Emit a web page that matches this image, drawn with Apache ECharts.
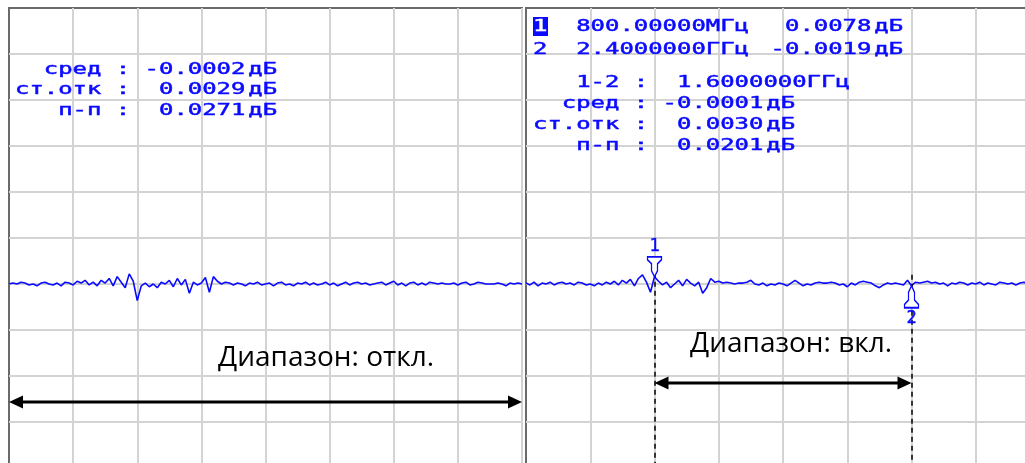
<!DOCTYPE html>
<html>
<head>
<meta charset="utf-8">
<script src="https://cdn.jsdelivr.net/npm/echarts@6/dist/echarts.min.js"></script>
<style>
  html, body { margin: 0; padding: 0; background: #ffffff; overflow: hidden; }
  /* the two screens run past the right and bottom edges of the window */
  #chart { width: 1040px; height: 470px; }
</style>
</head>
<body>
<div id="chart"></div>
<script>
// Sweep settings shared by both screens: 0 … 3.2 GHz, 8 divisions
const START_GHZ = 0;
const STOP_GHZ = 3.2;
const DIV_GHZ = 0.4;
// Vertical scale: 0.05 dB/div, 0 dB six divisions below the top edge
const Y_MIN_DB = -0.2;
const Y_MAX_DB = 0.3;
const DIV_DB = 0.05;

// Trace with the statistics span switched off (whole sweep), dB
const traceOffDb = [
  0.000, 0.001, 0.000, 0.002, 0.001, -0.001, 0.000, -0.002, 0.001, 0.002,
  0.000, -0.001, 0.001, -0.002, 0.002, 0.001, -0.001, 0.003, 0.001, 0.004,
  -0.001, 0.002, -0.002, 0.004, 0.001, 0.006, -0.002, 0.008, 0.002, -0.004,
  0.011, 0.003, -0.018, -0.002, 0.001, -0.003, 0.000, -0.004, 0.002, 0.000,
  0.004, -0.003, 0.006, -0.001, 0.005, -0.010, 0.002, -0.001, 0.001, 0.007,
  -0.009, 0.008, 0.003, 0.000, 0.002, 0.001, -0.001, 0.001, 0.000, -0.002,
  0.001, 0.000, 0.002, -0.001, 0.000, 0.001, -0.002, 0.001, 0.002, -0.001,
  0.000, -0.002, 0.001, 0.000, 0.002, -0.001, 0.001, -0.001, 0.000, 0.002,
  -0.001, 0.001, -0.002, 0.000, 0.002, -0.001, 0.001, 0.002, 0.000, 0.001,
  -0.001, 0.000, 0.001, 0.002, -0.001, 0.001, 0.003, -0.001, 0.001, -0.002,
  0.001, 0.002, -0.001, 0.001, -0.001, 0.002, 0.001, 0.000, 0.001, 0.000,
  0.000, 0.001, -0.001, 0.001, 0.002, -0.001, 0.000, 0.002, 0.001, 0.000,
  0.000, 0.000, 0.001, 0.000, -0.002, 0.001, 0.000, 0.001, 0.000
];

// Trace with the statistics span switched on (marker 1 … marker 2), dB
const traceOnDb = [
  0.001, -0.001, 0.002, -0.002, 0.001, 0.000, 0.002, -0.001, 0.001, 0.002,
  0.000, 0.001, -0.001, 0.002, 0.001, -0.001, 0.000, -0.002, 0.001, -0.001,
  0.002, 0.000, 0.003, -0.001, 0.004, 0.001, 0.005, -0.002, 0.006, 0.010,
  0.002, -0.009, 0.0078, 0.003, -0.001, 0.002, -0.004, 0.000, 0.004, -0.002,
  0.005, 0.001, -0.002, 0.002, -0.010, -0.004, 0.006, 0.002, 0.003, 0.001,
  0.002, 0.001, 0.000, 0.001, 0.001, 0.002, 0.004, 0.000, -0.001, 0.001,
  -0.002, 0.000, -0.001, 0.001, 0.000, -0.002, 0.001, 0.004, 0.001, -0.002,
  0.000, -0.001, 0.001, 0.002, 0.001, 0.001, 0.002, 0.001, -0.001, 0.000,
  -0.003, 0.001, -0.001, 0.002, 0.003, 0.002, 0.001, -0.002, -0.004, -0.001,
  0.001, 0.000, 0.001, 0.000, -0.001, 0.004, -0.0019, 0.002, 0.001, 0.002,
  0.003, 0.001, 0.002, 0.000, 0.001, -0.002, 0.001, 0.000, 0.002, 0.001,
  -0.001, 0.001, 0.000, 0.002, -0.001, 0.001, 0.000, -0.001, 0.002, 0.001,
  0.000, 0.001, -0.001, 0.001, 0.002, 0.000, 0.001, -0.001, 0.000
];

// Markers
const markerNames = ['1', '2'];
const markerGHz = [0.8, 2.4];
const markerFreqText = ['800.00000', '2.4000000'];
const markerFreqUnit = ['МГц', 'ГГц'];
const markerDb = [0.0078, -0.0019];
const deltaName = '1-2';
const deltaText = '1.6000000';
const deltaUnit = 'ГГц';

// Trace statistics
const statNames = ['сред', 'ст.отк', 'п-п'];
const statsOffDb = ['-0.0002', '0.0029', '0.0271'];
const statsOnDb = ['-0.0001', '0.0030', '0.0201'];
const dbUnit = 'дБ';

// Captions under each screen
const spanCaptions = ['Диапазон: откл.', 'Диапазон: вкл.'];

// ---------------------------------------------------------------------------
const BLUE = '#0a0aff';
const GRID_LINE = '#d3d3d3';
const FRAME = '#6a6a6a';

const sweepGHz = traceOffDb.map((_, i) =>
  START_GHZ + i * (STOP_GHZ - START_GHZ) / (traceOffDb.length - 1));
const toPairs = (vals) => vals.map((v, i) => [sweepGHz[i], v]);

function xAxisFor(gridIndex) {
  return {
    type: 'value', gridIndex, min: START_GHZ, max: STOP_GHZ, interval: DIV_GHZ,
    axisLine: { show: false }, axisTick: { show: false }, axisLabel: { show: false },
    splitLine: { show: true, showMinLine: false, lineStyle: { color: GRID_LINE, width: 2 } }
  };
}
function yAxisFor(gridIndex) {
  return {
    type: 'value', gridIndex, min: Y_MIN_DB, max: Y_MAX_DB, interval: DIV_DB,
    axisLine: { show: false }, axisTick: { show: false }, axisLabel: { show: false },
    splitLine: { show: true, showMaxLine: false, lineStyle: { color: GRID_LINE, width: 2 } }
  };
}

// Marker glyphs: funnel pointing down (above trace) and up (below trace)
const MARK_DOWN = 'path://M0,0H14V3L10,7V14L7,20L4,14V7L0,3Z';
const MARK_UP = 'path://M7,0L10,6V13L14,17V20H0V17L4,13V6Z';

const chart = echarts.init(document.getElementById('chart'), null, { renderer: 'canvas' });

const markerLabel = (text, position) => ({
  show: true, position, distance: 1, formatter: text,
  color: BLUE, fontFamily: 'DejaVu Sans Mono', fontSize: 17,
  textBorderColor: BLUE, textBorderWidth: 0.4
});

const option = {
  animation: false,
  backgroundColor: '#ffffff',
  grid: [
    { left: 9, top: 8, width: 513, height: 460, show: true,
      borderColor: FRAME, borderWidth: 2, backgroundColor: 'transparent' },
    { left: 526, top: 8, width: 514, height: 460, show: true,
      borderColor: FRAME, borderWidth: 2, backgroundColor: 'transparent' }
  ],
  xAxis: [xAxisFor(0), xAxisFor(1)],
  yAxis: [yAxisFor(0), yAxisFor(1)],
  series: [
    {
      type: 'line', xAxisIndex: 0, yAxisIndex: 0, data: toPairs(traceOffDb),
      showSymbol: false, silent: true, z: 3,
      lineStyle: { color: BLUE, width: 1.6 }
    },
    {
      type: 'line', xAxisIndex: 1, yAxisIndex: 1, data: toPairs(traceOnDb),
      showSymbol: false, silent: true, z: 3,
      lineStyle: { color: BLUE, width: 1.6 },
      markPoint: {
        silent: true,
        data: [
          {
            coord: [markerGHz[0], markerDb[0]], symbol: MARK_DOWN,
            symbolSize: [14, 20], symbolOffset: [0, '-50%'],
            itemStyle: { color: '#ffffff', borderColor: BLUE, borderWidth: 1.5 },
            label: markerLabel(markerNames[0], 'top')
          },
          {
            coord: [markerGHz[1], markerDb[1]], symbol: MARK_UP,
            symbolSize: [14, 22], symbolOffset: [0, '50%'],
            itemStyle: { color: '#ffffff', borderColor: BLUE, borderWidth: 1.5 },
            label: markerLabel(markerNames[1], 'bottom')
          }
        ]
      }
    },
    {
      // dashed cursor lines dropping from both markers
      type: 'line', xAxisIndex: 1, yAxisIndex: 1, data: [], z: 6, silent: true,
      markLine: {
        silent: true, symbol: 'none', label: { show: false },
        lineStyle: { color: '#000000', width: 1.5, type: [5, 4] },
        data: [
          [{ coord: [markerGHz[0], 0.022] }, { coord: [markerGHz[0], Y_MIN_DB] }],
          [{ coord: [markerGHz[1], 0.010] }, { coord: [markerGHz[1], Y_MIN_DB] }]
        ]
      }
    }
  ]
};
chart.setOption(option);

// ---------------------------------------------------------------------------
// Overlay: span arrows, captions and on-screen readouts
const ARROW_LEN = 14, ARROW_HALF = 6.5;
function spanArrow(gridIndex, f0, f1, levelDb) {
  const a = chart.convertToPixel({ gridIndex }, [f0, levelDb]);
  const b = chart.convertToPixel({ gridIndex }, [f1, levelDb]);
  const y = Math.round(a[1]);
  return [
    { type: 'line', z: 30, silent: true,
      shape: { x1: a[0] + ARROW_LEN - 2, y1: y, x2: b[0] - ARROW_LEN + 2, y2: y },
      style: { stroke: '#000000', lineWidth: 3 } },
    { type: 'polygon', z: 30, silent: true,
      shape: { points: [[a[0], y], [a[0] + ARROW_LEN, y - ARROW_HALF], [a[0] + ARROW_LEN, y + ARROW_HALF]] },
      style: { fill: '#000000' } },
    { type: 'polygon', z: 30, silent: true,
      shape: { points: [[b[0], y], [b[0] - ARROW_LEN, y - ARROW_HALF], [b[0] - ARROW_LEN, y + ARROW_HALF]] },
      style: { fill: '#000000' } }
  ];
}

// Instrument readout font: fixed 14.4 px character cells
const MONO_SIZE = 15;
const CELL = 14.4;
const MONO_SCALE = CELL / (MONO_SIZE * 0.602);
function mono(originX, cell, y, text, fill) {
  const color = fill || BLUE;
  return {
    type: 'text', z: 40, silent: true,
    x: originX + cell * CELL, y, scaleX: MONO_SCALE,
    style: { text, fill: color, stroke: color, lineWidth: 0.45,
      font: MONO_SIZE + 'px "DejaVu Sans Mono"', align: 'left', verticalAlign: 'middle' }
  };
}
function statBlock(originX, rowsY, values) {
  const out = [];
  const labelCells = [2, 0, 3];
  statNames.forEach((name, i) => {
    const y = rowsY[i];
    out.push(mono(originX, labelCells[i], y, name));
    out.push(mono(originX, 7, y, ':'));
    const v = values[i];
    out.push(mono(originX, v.startsWith('-') ? 9 : 10, y, v));
    out.push(mono(originX, 16.2, y, dbUnit));
  });
  return out;
}

const LEFT_X0 = 15;
const RIGHT_X0 = 533;
const graphics = [];

// left screen readout
graphics.push(...statBlock(LEFT_X0, [70, 90, 111], statsOffDb));

// right screen: marker table
const markerRowsY = [27, 50];
graphics.push({
  type: 'rect', z: 39, silent: true,
  shape: { x: RIGHT_X0, y: 17, width: 15, height: 19 },
  style: { fill: BLUE }
});
graphics.push(mono(RIGHT_X0, 0, markerRowsY[0], markerNames[0], '#ffffff'));
graphics.push(mono(RIGHT_X0, 0, markerRowsY[1], markerNames[1]));
markerRowsY.forEach((y, i) => {
  const v = markerDb[i].toFixed(4);
  graphics.push(mono(RIGHT_X0, 3, y, markerFreqText[i]));
  graphics.push(mono(RIGHT_X0, 12, y, markerFreqUnit[i]));
  graphics.push(mono(RIGHT_X0, v.startsWith('-') ? 16.5 : 17.5, y, v));
  graphics.push(mono(RIGHT_X0, 23.7, y, dbUnit));
});
// delta row
graphics.push(mono(RIGHT_X0, 3, 83, deltaName));
graphics.push(mono(RIGHT_X0, 7, 83, ':'));
graphics.push(mono(RIGHT_X0, 10, 83, deltaText));
graphics.push(mono(RIGHT_X0, 19, 83, deltaUnit));
// right screen statistics
graphics.push(...statBlock(RIGHT_X0, [104, 125, 146], statsOnDb));

// span arrows
graphics.push(...spanArrow(0, START_GHZ, STOP_GHZ, -0.128));
graphics.push(...spanArrow(1, markerGHz[0], markerGHz[1], -0.1075));

// captions
graphics.push({
  type: 'text', z: 40, silent: true, x: 218, y: 358,
  style: { text: spanCaptions[0], fill: '#000000', font: '28px "Open Sans"',
    align: 'left', verticalAlign: 'middle' }
});
graphics.push({
  type: 'text', z: 40, silent: true, x: 690, y: 344,
  style: { text: spanCaptions[1], fill: '#000000', font: '28px "Open Sans"',
    align: 'left', verticalAlign: 'middle' }
});

chart.setOption({ graphic: graphics });
</script>
</body>
</html>
